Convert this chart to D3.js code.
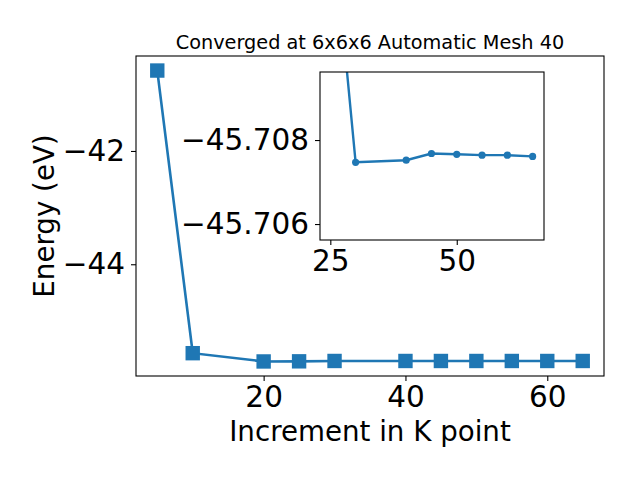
<!DOCTYPE html>
<html><head><meta charset="utf-8">
<script src="https://cdn.jsdelivr.net/npm/d3@7"></script>
<style>
html,body{margin:0;padding:0;background:#fff;}
svg{display:block;font-family:"DejaVu Sans",sans-serif;}
</style></head>
<body>
<script>
const kpoints = [5, 10, 20, 25, 30, 40, 45, 50, 55, 60, 65];
const energies = [-40.58, -45.57, -45.716, -45.7138, -45.70747, -45.70752, -45.70768, -45.70766, -45.70764, -45.70764, -45.70761];
const mainXTicks = [20, 40, 60];
const mainYTicks = [-44, -42];
const insetXTicks = [25, 50];
const insetYTicks = [-45.708, -45.706];
const titleText = "Converged at 6x6x6 Automatic Mesh 40";
const xLabel = "Increment in K point";
const yLabel = "Energy (eV)";

const W = 640, H = 480;
const color = "#1f77b4";
const TICK_FS = 29.5, LABEL_FS = 27.7, TITLE_FS = 19.3;
const data = kpoints.map((k, i) => ({x: k, y: energies[i]}));
const minus = s => String(s).replace("-", "\u2212");

const svg = d3.select("body").append("svg").attr("width", W).attr("height", H);

// main axes box
const M = {l: 136, r: 604, t: 56, b: 376};
const xr = d3.extent(kpoints), yr = d3.extent(energies);
const xm = (xr[1] - xr[0]) * 0.05, ym = (yr[1] - yr[0]) * 0.05;
const x = d3.scaleLinear().domain([xr[0] - xm, xr[1] + xm]).range([M.l, M.r]);
const y = d3.scaleLinear().domain([yr[0] - ym, yr[1] + ym]).range([M.b, M.t]);

const main = svg.append("g");
main.append("path").datum(data)
  .attr("fill", "none").attr("stroke", color).attr("stroke-width", 2.6)
  .attr("d", d3.line().x(d => x(d.x)).y(d => y(d.y)));
main.selectAll("rect.m").data(data).join("rect").attr("class", "m")
  .attr("x", d => x(d.x) - 7.2).attr("y", d => y(d.y) - 7.2)
  .attr("width", 14.4).attr("height", 14.4).attr("fill", color);

function styleAxis(g, fs) {
  g.selectAll(".domain").remove();
  g.selectAll(".tick line").attr("stroke", "#000").attr("stroke-width", 1.1);
  g.selectAll(".tick text").attr("fill", "#000").style("font-size", fs + "px")
    .style("font-family", "DejaVu Sans");
}

const gx = svg.append("g").attr("transform", `translate(0,${M.b})`)
  .call(d3.axisBottom(x).tickValues(mainXTicks).tickSize(5).tickPadding(5).tickFormat(minus));
styleAxis(gx, TICK_FS);
const gy = svg.append("g").attr("transform", `translate(${M.l},0)`)
  .call(d3.axisLeft(y).tickValues(mainYTicks).tickSize(5).tickPadding(6).tickFormat(minus));
styleAxis(gy, TICK_FS);

svg.append("rect").attr("x", M.l).attr("y", M.t).attr("width", M.r - M.l).attr("height", M.b - M.t)
  .attr("fill", "none").attr("stroke", "#000").attr("stroke-width", 1.1);

svg.append("text").attr("x", (M.l + M.r) / 2).attr("y", 49).attr("text-anchor", "middle")
  .style("font-size", TITLE_FS + "px").text(titleText);
svg.append("text").attr("x", (M.l + M.r) / 2).attr("y", 441).attr("text-anchor", "middle")
  .style("font-size", LABEL_FS + "px").text(xLabel);
svg.append("text").attr("transform", `translate(54,${(M.t + M.b) / 2}) rotate(-90)`)
  .attr("text-anchor", "middle").style("font-size", LABEL_FS + "px").text(yLabel);

// inset
const I = {l: 320, r: 544, t: 72, b: 240};
const xi = d3.scaleLinear().domain([22.96, 67.25]).range([I.l, I.r]);
const yi = d3.scaleLinear().domain([-45.70962, -45.70562]).range([I.t, I.b]);
svg.append("rect").attr("x", I.l).attr("y", I.t).attr("width", I.r - I.l).attr("height", I.b - I.t)
  .attr("fill", "#fff");
svg.append("clipPath").attr("id", "ci").append("rect")
  .attr("x", I.l).attr("y", I.t).attr("width", I.r - I.l).attr("height", I.b - I.t);
const ins = svg.append("g").attr("clip-path", "url(#ci)");
ins.append("path").datum(data)
  .attr("fill", "none").attr("stroke", color).attr("stroke-width", 2.4)
  .attr("d", d3.line().x(d => xi(d.x)).y(d => yi(d.y)));
ins.selectAll("circle").data(data).join("circle")
  .attr("cx", d => xi(d.x)).attr("cy", d => yi(d.y)).attr("r", 3.6).attr("fill", color);
const gxi = svg.append("g").attr("transform", `translate(0,${I.b})`)
  .call(d3.axisBottom(xi).tickValues(insetXTicks).tickSize(5).tickPadding(5).tickFormat(minus));
styleAxis(gxi, TICK_FS);
const gyi = svg.append("g").attr("transform", `translate(${I.l},0)`)
  .call(d3.axisLeft(yi).tickValues(insetYTicks).tickSize(5).tickPadding(6).tickFormat(d => minus(d3.format(".3f")(d))));
styleAxis(gyi, TICK_FS);
svg.append("rect").attr("x", I.l).attr("y", I.t).attr("width", I.r - I.l).attr("height", I.b - I.t)
  .attr("fill", "none").attr("stroke", "#000").attr("stroke-width", 1.1);
</script>
</body></html>
